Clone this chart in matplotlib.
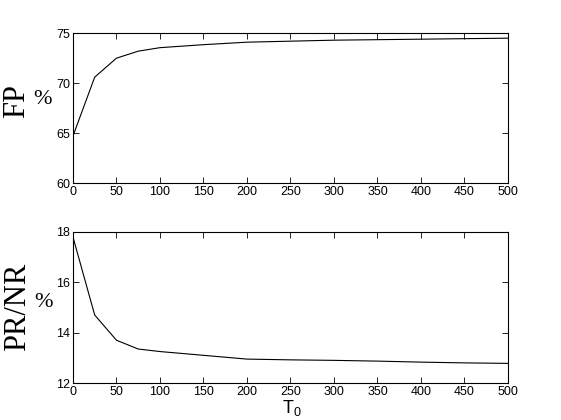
import numpy as np
import matplotlib
matplotlib.use("Agg")
import matplotlib.pyplot as plt

t0 = [0, 25, 50, 75, 100, 150, 200, 250, 300, 350, 400, 450, 500]
fp = [64.7, 70.6, 72.5, 73.2, 73.55, 73.85, 74.1, 74.2, 74.3, 74.35, 74.4, 74.45, 74.5]
prnr = [17.8, 14.7, 13.7, 13.35, 13.25, 13.1, 12.95, 12.92, 12.9, 12.87, 12.83, 12.8, 12.78]
xticks = np.arange(0, 501, 50)

plt.rcParams['font.family'] = ['Liberation Sans', 'DejaVu Sans']
plt.rcParams['font.size'] = 9

fig = plt.figure(figsize=(5.61, 4.2), dpi=100)
ax1 = fig.add_axes([0.130, 0.564, 0.7755, 0.357])
ax2 = fig.add_axes([0.130, 0.088, 0.7755, 0.360])

for ax, y, lim, yt in [(ax1, fp, (60, 75), [60, 65, 70, 75]),
                       (ax2, prnr, (12, 18), [12, 14, 16, 18])]:
    ax.plot(t0, y, color='black', linewidth=0.8)
    ax.set_xlim(0, 500)
    ax.set_ylim(*lim)
    ax.set_xticks(xticks)
    ax.set_yticks(yt)
    ax.tick_params(direction='in', top=True, right=True, length=4, width=0.6, pad=2)
    for s in ax.spines.values():
        s.set_linewidth(0.8)

fig.text(0.030, 0.76, 'FP', rotation=90, family='Liberation Serif', fontsize=22,
         ha='center', va='center')
fig.text(0.075, 0.762, '%', family='Liberation Serif', fontsize=16, ha='center', va='center')
fig.text(0.031, 0.27, 'PR/NR', rotation=90, family='Liberation Serif', fontsize=22,
         ha='center', va='center')
fig.text(0.078, 0.28, '%', family='Liberation Serif', fontsize=16, ha='center', va='center')
fig.text(0.52, 0.028, r'$\mathregular{T_0}$', fontsize=13, ha='center', va='center')

fig.savefig('out.png', dpi=100)
